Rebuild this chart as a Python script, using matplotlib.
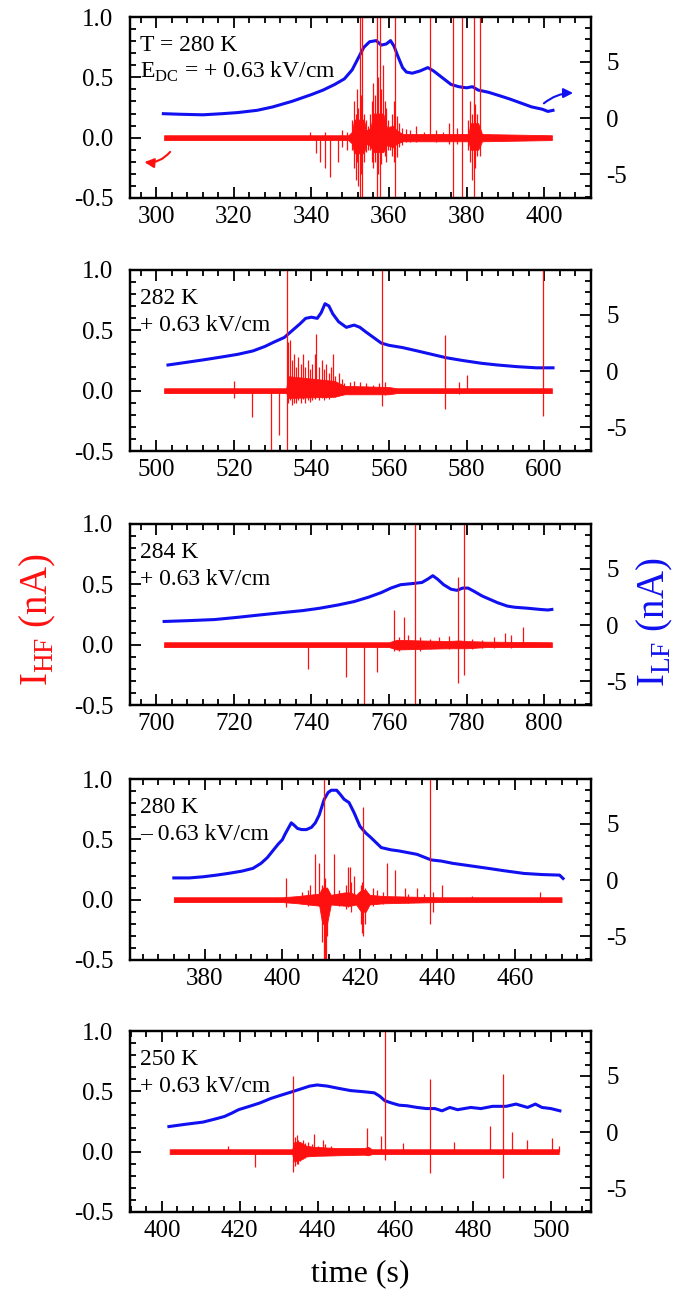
import matplotlib
matplotlib.use('Agg')
import matplotlib.pyplot as plt
from matplotlib.ticker import MultipleLocator

plt.rcParams['font.family'] = 'Liberation Serif'
plt.rcParams['mathtext.fontset'] = 'custom'
plt.rcParams['mathtext.rm'] = 'Liberation Serif'
plt.rcParams['axes.unicode_minus'] = False

RED = '#ff1010'
BLUE = '#1010f0'

# ---- panel 1 : T = 280 K, +0.63 kV/cm ----
p1_xlim = (293.2, 412.1)
p1_xticks = [300, 320, 340, 360, 380, 400]
p1_blue_t = [301.8, 306, 312, 317, 321, 326, 330, 335, 340, 343, 346, 348.5, 350.5, 352, 353.5,
             355, 356.7, 358, 359.3, 360.4, 361.3, 362.3, 363.5, 364.5, 366, 368, 370, 371.5,
             373, 374.5, 376, 378, 380, 381.5, 383, 385.7, 388.5, 391.2, 394, 396.8, 399.5,
             401, 402.3]
p1_blue_i = [0.4, 0.35, 0.3, 0.4, 0.5, 0.7, 1.0, 1.5, 2.1, 2.5, 3.0, 3.5, 4.3, 5.3, 6.3,
             6.8, 6.9, 6.5, 6.6, 6.9, 6.4, 5.5, 4.5, 4.1, 4.0, 4.2, 4.5, 4.2,
             3.8, 3.4, 3.0, 2.8, 2.7, 2.8, 2.5, 2.3, 2.0, 1.7, 1.35, 1.0, 0.8,
             0.6, 0.7]
p1_env_t = [302, 349.5, 350.5, 351, 353.5, 354.2, 355.2, 356, 358.5, 359.5, 361, 362, 363.5,
            380.5, 381, 383, 384, 402]
p1_env_hi = [0.02, 0.02, 0.05, 0.15, 0.15, 0.06, 0.08, 0.2, 0.2, 0.08, 0.1, 0.06, 0.03,
             0.03, 0.12, 0.12, 0.03, 0.02]
p1_env_lo = [-0.02, -0.02, -0.05, -0.13, -0.13, -0.05, -0.07, -0.12, -0.12, -0.06, -0.08, -0.05, -0.03,
             -0.03, -0.1, -0.1, -0.03, -0.02]
p1_spk_t = [339.5, 341.2, 342.2, 343.5, 344.8, 346.8, 348.0, 349.2,
            350.5, 351.0, 351.4, 351.8, 352.1, 352.8, 353.5, 354.0, 354.6, 355.2, 355.6, 356.0,
            356.4, 357.2, 358.0, 358.9, 359.3, 359.8, 360.3, 360.8, 361.2, 362.0, 362.6, 363.3,
            364.5, 365.5, 367.0, 369.0, 372.0, 374.0, 375.5, 377.5,
            380.5, 381.0, 381.5, 382.3, 382.8, 383.6,
            352.4, 353.1, 356.8, 357.6, 358.5, 361.6, 370.5, 376.5, 378.8, 382.0, 383.4]
p1_spk_top = [0.05, 0, 0, 0.05, 0, 0, 0.06, 0.05,
              0.15, 0.3, 0.2, 0.4, 0.25, 0.35, 0.2, 0.15, 0.1, 0.2, 0.3, 0.45,
              0.35, 0.5, 0.4, 0.3, 0.25, 0.15, 0.1, 0.2, 0.3, 0.18, 0.12, 0.08,
              0.07, 0.06, 0.1, 0.05, 0.06, 0.05, 0.12, 0.08,
              0.15, 0.3, 0.2, 0.28, 0.2, 0.1,
              1.5, 1.5, 1.5, 1.5, 0.6, 1.5, 1.5, 1.5, 1.5, 1.5, 1.5]
p1_spk_bot = [0, -0.13, -0.2, -0.25, -0.33, -0.2, -0.08, -0.1,
              -0.1, -0.25, -0.35, -0.2, -0.4, -0.3, -0.2, -0.12, -0.1, -0.1, -0.2, -0.25,
              -0.2, -0.3, -0.22, -0.15, -0.2, -0.1, -0.1, -0.15, -0.2, -0.16, -0.08, -0.06,
              -0.04, -0.04, -0.04, -0.03, -0.04, -0.03, -0.05, -0.05,
              -0.1, -0.2, -0.35, -0.25, -0.15, -0.08,
              -1, -1, -1, -1, 0, -1, -0.02, -1, -1, -1, -0.15]

# ---- panel 2 : 282 K ----
p2_xlim = (493.2, 612.1)
p2_xticks = [500, 520, 540, 560, 580, 600]
p2_blue_t = [503, 508, 512, 517.5, 521, 524.9, 528, 530.4, 533, 535, 537, 538.5, 540, 541.5,
             542.5, 543.5, 544.5, 545.5, 547, 549, 551, 552.5, 554, 556, 558, 560, 563.5,
             567.3, 571, 574.7, 579, 583.9, 588, 593.1, 598, 602.3]
p2_blue_i = [0.55, 0.8, 1.0, 1.3, 1.5, 1.8, 2.2, 2.6, 3.0, 3.6, 4.2, 4.7, 4.8, 4.7,
             5.2, 6.0, 5.8, 5.1, 4.4, 3.9, 4.1, 3.9, 3.5, 3.0, 2.5, 2.3, 2.1,
             1.8, 1.5, 1.2, 0.95, 0.7, 0.55, 0.4, 0.3, 0.3]
p2_env_t = [502, 533.5, 534, 546, 548.5, 560, 562, 602]
p2_env_hi = [0.02, 0.02, 0.12, 0.08, 0.04, 0.03, 0.02, 0.02]
p2_env_lo = [-0.02, -0.02, -0.06, -0.05, -0.03, -0.03, -0.02, -0.02]
p2_spk_t = [534.0, 534.4, 535.0, 535.5, 536.0, 536.6, 537.2, 537.8, 538.4, 539.0, 539.6,
            540.2, 540.8, 541.3, 542.0, 542.6, 543.2, 543.8, 544.4, 545.0, 545.5, 546.2,
            547.0, 547.8, 548.5, 550.0, 551.0, 552.5, 554.0, 556.0, 557.5, 559.0,
            524.6, 520.0, 529.6, 531.6, 533.7, 558.2, 574.5, 578.0, 580.0, 599.7]
p2_spk_top = [0.4, 0.42, 0.25, 0.3, 0.2, 0.28, 0.22, 0.3, 0.2, 0.25, 0.18,
              0.22, 0.3, 0.47, 0.2, 0.25, 0.18, 0.22, 0.15, 0.2, 0.3, 0.12,
              0.15, 0.1, 0.06, 0.07, 0.08, 0.07, 0.06, 0.05, 0.06, 0.07,
              0, 0.08, 0, 0, 1.5, 1.5, 0.46, 0.07, 0.13, 1.5]
p2_spk_bot = [-0.1, -0.08, -0.12, -0.1, -0.1, -0.08, -0.1, -0.07, -0.1, -0.08, -0.09,
              -0.08, -0.07, -0.05, -0.08, -0.06, -0.08, -0.06, -0.07, -0.05, -0.05, -0.05,
              -0.04, -0.04, -0.03, -0.03, -0.03, -0.03, -0.03, -0.03, -0.03, -0.04,
              -0.22, -0.06, -1, -0.37, -1, -0.13, -0.15, -0.03, 0, -0.21]

# ---- panel 3 : 284 K ----
p3_xlim = (693.2, 812.1)
p3_xticks = [700, 720, 740, 760, 780, 800]
p3_blue_t = [702, 708, 715, 721, 726.4, 732, 737.8, 742, 746.9, 751, 754.8, 758, 760.5, 763,
             766, 768.5, 770, 771.3, 772.5, 774.1, 776, 777.5, 779, 780.4, 782, 784, 786, 788,
             790.5, 792.3, 796, 799, 801, 802]
p3_blue_i = [0.33, 0.4, 0.5, 0.7, 0.9, 1.1, 1.3, 1.5, 1.8, 2.1, 2.5, 2.9, 3.3, 3.6,
             3.7, 3.8, 4.1, 4.4, 4.1, 3.6, 3.2, 3.1, 3.3, 3.3, 3.0, 2.6, 2.3, 2.0,
             1.7, 1.6, 1.5, 1.4, 1.35, 1.4]
p3_env_t = [702, 760, 762, 768, 775, 778, 780, 785, 802]
p3_env_hi = [0.02, 0.02, 0.04, 0.035, 0.03, 0.035, 0.03, 0.025, 0.02]
p3_env_lo = [-0.02, -0.02, -0.04, -0.035, -0.03, -0.03, -0.03, -0.02, -0.02]
p3_spk_t = [766.7, 779.3, 777.9, 753.5, 739.1, 748.8, 757.0, 761.4, 763.9, 789.8, 794.6,
            762.5, 765.0, 768.0, 770.5, 773.0, 775.5, 781.5, 784.0, 787.0, 791.5]
p3_spk_top = [1.5, 1.5, 0.56, 0, 0, 0, 0, 0.29, 0.23, 0.1, 0.15,
              0.06, 0.08, 0.06, 0.05, 0.06, 0.07, 0.05, 0.04, 0.06, 0.08]
p3_spk_bot = [-1, -0.25, -0.32, -1, -0.2, -0.27, -0.23, -0.05, 0, 0, 0,
              -0.05, -0.04, -0.05, -0.04, -0.03, -0.04, -0.04, -0.03, -0.03, -0.03]

# ---- panel 4 : 280 K, -0.63 kV/cm ----
p4_xlim = (360.7, 479.6)
p4_xticks = [380, 400, 420, 440, 460]
p4_blue_t = [372, 376, 379.5, 383, 386, 389.5, 392.4, 394.5, 396.1, 397.5, 398.9, 400, 400.7,
             401.5, 402.3, 403, 403.9, 405, 406.2, 407.5, 408.5, 409.5, 410.8, 411.8, 412.6,
             414, 415, 415.9, 417.2, 418.5, 420, 421.5, 422.8, 425.5, 428, 430.1, 434.7, 438.4,
             441, 443.9, 448, 453.1, 457, 462.3, 467, 471.5, 472.4]
p4_blue_i = [0.2, 0.2, 0.3, 0.45, 0.6, 0.8, 1.05, 1.5, 2.0, 2.6, 3.2, 3.6, 4.1,
             4.6, 5.1, 4.9, 4.6, 4.5, 4.5, 4.7, 5.1, 5.8, 7.2, 7.8, 8.0,
             8.0, 7.6, 7.2, 6.9, 6.0, 4.8, 4.2, 3.8, 2.9, 2.7, 2.6, 2.3, 1.8,
             1.7, 1.5, 1.3, 1.05, 0.85, 0.6, 0.5, 0.45, 0.15]
p4_env_t = [372, 400, 404, 409.5, 410.3, 411.5, 412.5, 416, 417.5, 419, 420.3, 421.5, 422.5,
            426, 440, 472]
p4_env_hi = [0.02, 0.02, 0.03, 0.05, 0.1, 0.1, 0.04, 0.06, 0.06, 0.04, 0.08, 0.08, 0.04,
             0.03, 0.02, 0.02]
p4_env_lo = [-0.02, -0.02, -0.03, -0.05, -0.2, -0.2, -0.04, -0.05, -0.05, -0.04, -0.1, -0.1,
             -0.04, -0.03, -0.02, -0.02]
p4_spk_t = [410.8, 411.3, 420.9, 413.4, 438.2, 400.9, 408.5, 409.4, 407.0, 417.5, 418.6, 427.0,
            429.0, 431.5, 434.6, 436.5, 441.2, 466.4, 449.0,
            410.2, 411.0, 411.6, 416.5, 417.0, 417.8, 420.3, 420.6, 421.3, 405.0, 406.5,
            414.5, 423.5, 424.5, 426.0, 432.5, 438.8]
p4_spk_top = [1.5, 0.1, 0.77, 0.38, 1.5, 0.18, 0.38, 0.3, 0.12, 0.27, 0.2, 0.3,
              0.25, 0.1, 0.1, 0.05, 0.12, 0.06, 0.03,
              0.12, 0.18, 0.1, 0.12, 0.27, 0.15, 0.12, 0.15, 0.1, 0.06, 0.08,
              0.08, 0.1, 0.08, 0.06, 0.05, 0.06]
p4_spk_bot = [-1, -1, -0.3, -0.03, -0.2, -0.06, 0, 0, 0, 0, 0, 0,
              0, 0, 0, 0, 0, 0, 0,
              -0.35, -0.5, -0.3, -0.08, -0.06, -0.1, -0.2, -0.28, -0.2, -0.04, -0.05,
              -0.05, -0.05, -0.04, -0.04, -0.03, -0.1]

# ---- panel 5 : 250 K ----
p5_xlim = (391.8, 510.3)
p5_xticks = [400, 420, 440, 460, 480, 500]
p5_blue_t = [401.8, 406, 410.6, 414, 416.1, 418, 419.7, 422.5, 425.2, 428, 430.7, 433.5,
             436.2, 438, 439.9, 442.5, 445.4, 448.5, 451.8, 454.6, 456, 457.3, 459, 461, 463,
             465.6, 468, 470.2, 472, 474, 476, 479.4, 482, 485, 488.5, 491, 494, 496, 497.7,
             500, 502.3]
p5_blue_i = [0.5, 0.7, 0.9, 1.2, 1.4, 1.7, 2.0, 2.3, 2.6, 3.0, 3.3, 3.6,
             3.9, 4.1, 4.2, 4.1, 3.9, 3.7, 3.6, 3.5, 3.2, 2.8, 2.6, 2.4, 2.35,
             2.2, 2.1, 2.1, 1.9, 2.2, 2.0, 2.2, 2.1, 2.3, 2.3, 2.5, 2.2, 2.5, 2.2,
             2.1, 1.9]
p5_env_t = [402, 433.5, 434, 435.5, 437, 439, 445, 452, 453, 454, 502]
p5_env_hi = [0.02, 0.02, 0.08, 0.08, 0.05, 0.04, 0.03, 0.03, 0.04, 0.02, 0.02]
p5_env_lo = [-0.02, -0.02, -0.08, -0.07, -0.04, -0.035, -0.03, -0.025, -0.03, -0.02, -0.02]
p5_spk_t = [433.8, 457.3, 468.8, 487.6, 423.9, 417.0, 439.2, 441.3, 452.6, 456.4, 461.9,
            475.2, 484.4, 489.9, 493.8, 500.3, 502.1,
            434.3, 434.7, 435.1, 435.6, 436.2, 436.8, 437.5, 438.5, 440.0, 442.0, 443.5]
p5_spk_top = [0.625, 1.5, 0.6, 0.64, 0, 0.05, 0.15, 0.1, 0.2, 0.13, 0.07,
              0.08, 0.21, 0.16, 0.1, 0.11, 0.05,
              0.12, 0.14, 0.1, 0.08, 0.1, 0.07, 0.08, 0.06, 0.05, 0.06, 0.05]
p5_spk_bot = [-0.17, -0.07, -0.18, -0.22, -0.13, 0, 0, 0, 0, 0, 0,
              0, 0, 0, 0, 0, 0,
              -0.12, -0.1, -0.1, -0.08, -0.06, -0.05, -0.04, -0.04, -0.03, -0.03, -0.03]

labels = [('T = 280 K', r'E$_{\mathrm{DC}}$ = + 0.63 kV/cm'),
          ('282 K', '+ 0.63 kV/cm'),
          ('284 K', '+ 0.63 kV/cm'),
          ('280 K', '\u2013 0.63 kV/cm'),
          ('250 K', '+ 0.63 kV/cm')]

panels = [
    (p1_xlim, p1_xticks, p1_blue_t, p1_blue_i, p1_env_t, p1_env_hi, p1_env_lo, p1_spk_t, p1_spk_top, p1_spk_bot),
    (p2_xlim, p2_xticks, p2_blue_t, p2_blue_i, p2_env_t, p2_env_hi, p2_env_lo, p2_spk_t, p2_spk_top, p2_spk_bot),
    (p3_xlim, p3_xticks, p3_blue_t, p3_blue_i, p3_env_t, p3_env_hi, p3_env_lo, p3_spk_t, p3_spk_top, p3_spk_bot),
    (p4_xlim, p4_xticks, p4_blue_t, p4_blue_i, p4_env_t, p4_env_hi, p4_env_lo, p4_spk_t, p4_spk_top, p4_spk_bot),
    (p5_xlim, p5_xticks, p5_blue_t, p5_blue_i, p5_env_t, p5_env_hi, p5_env_lo, p5_spk_t, p5_spk_top, p5_spk_bot),
]

W, H = 681, 1292
fig = plt.figure(figsize=(W / 100, H / 100), dpi=100)

tops = [17, 270, 524, 779, 1031]
ph = 181
axes = []
for k, (xl, xt, bt, bi, et, ehi, elo, st, stop, sbot) in enumerate(panels):
    ax = fig.add_axes([130 / W, 1 - (tops[k] + ph) / H, 461 / W, ph / H])
    ax2 = ax.twinx()
    ax.set_zorder(ax2.get_zorder() + 1)
    ax.patch.set_visible(False)

    # low-frequency current (right axis)
    ax2.plot(bt, bi, color=BLUE, lw=2.2)
    ax2.set_ylim(-7.1, 9.0)
    ax2.yaxis.set_major_locator(MultipleLocator(5))
    ax2.yaxis.set_minor_locator(MultipleLocator(1))
    ax2.tick_params(axis='y', which='both', direction='in', labelsize=18, pad=11, width=1.3)
    ax2.tick_params(axis='y', which='major', length=8)
    ax2.tick_params(axis='y', which='minor', length=4.5)

    # high-frequency current (left axis)
    ax.fill_between(et, elo, ehi, color=RED, lw=0.6, edgecolor=RED)
    ax.vlines(st, sbot, stop, color=RED, lw=0.9)
    ax.set_ylim(-0.5, 1.0)
    ax.set_xlim(*xl)
    ax.set_xticks(xt)
    ax.xaxis.set_minor_locator(MultipleLocator(4))
    ax.set_yticks([-0.5, 0.0, 0.5, 1.0])
    ax.set_yticklabels(['-0.5', '0.0', '0.5', '1.0'])
    ax.yaxis.set_minor_locator(MultipleLocator(0.1))
    ax.tick_params(which='both', direction='in', top=True, right=False, labelsize=18, width=1.3)
    ax.tick_params(axis='y', which='both', pad=12)
    ax.tick_params(axis='x', which='both', pad=6)
    ax.tick_params(which='major', length=8)
    ax.tick_params(which='minor', length=4.5)
    for sp in ax.spines.values():
        sp.set_linewidth(1.6)
    for sp in ax2.spines.values():
        sp.set_linewidth(1.6)

    ax.text(0.022, 0.81, labels[k][0], transform=ax.transAxes, fontsize=17, va='baseline')
    ax.text(0.022, 0.665, labels[k][1], transform=ax.transAxes, fontsize=17, va='baseline')
    axes.append(ax)

# arrows pointing to the axes of each trace
axes[0].annotate('', xy=(296.2, -0.2), xytext=(304, -0.1),
                 arrowprops=dict(arrowstyle='-|>', color=RED, lw=1.5, mutation_scale=14,
                                 connectionstyle='arc3,rad=-0.3'))
axes[0].annotate('', xy=(408.2, 0.37), xytext=(399.4, 0.27),
                 arrowprops=dict(arrowstyle='-|>', color=BLUE, lw=1.5, mutation_scale=14,
                                 connectionstyle='arc3,rad=-0.2'))

axes[-1].set_xlabel('time (s)', fontsize=23, labelpad=12)
fig.text(38 / W, 1 - 620 / H, r'I$_{\mathrm{HF}}$ (nA)', color=RED, fontsize=28,
         rotation=90, ha='center', va='center')
fig.text(655 / W, 1 - 622 / H, r'I$_{\mathrm{LF}}$ (nA)', color=BLUE, fontsize=28,
         rotation=90, ha='center', va='center')

fig.savefig('out.png', dpi=100)
